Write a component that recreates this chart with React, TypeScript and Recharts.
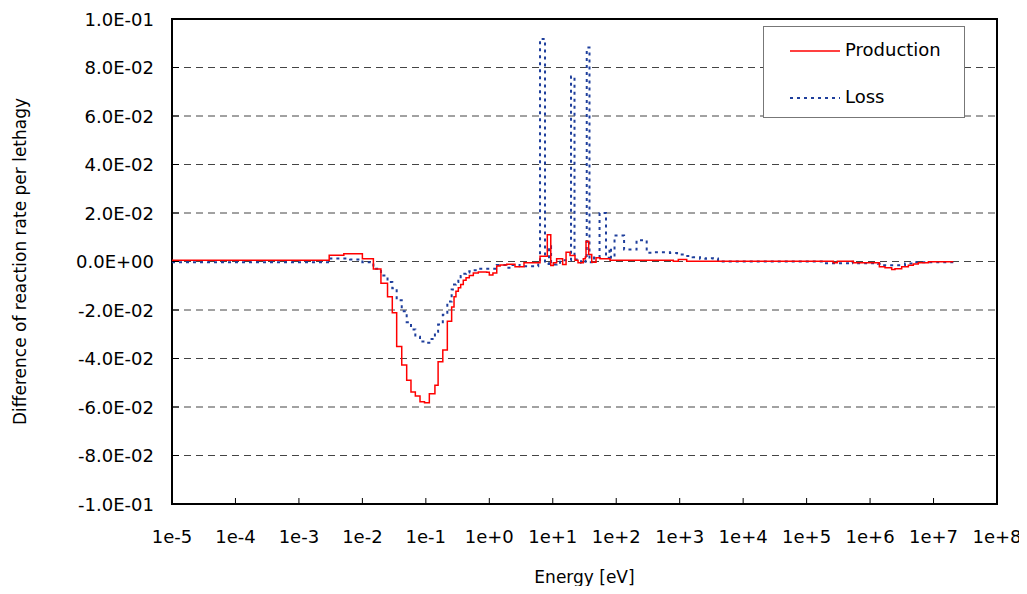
import { LineChart, Line, XAxis, YAxis, CartesianGrid, Legend, ReferenceArea } from 'recharts';

const FONT = '"DejaVu Sans", Verdana, sans-serif';

// group lower bounds [eV] and the difference per lethargy
const prodEnergy = [
  1e-5, 3.0e-3, 5.1e-3, 1.0e-2, 1.49e-2, 1.96e-2, 2.49e-2, 2.96e-2, 3.47e-2, 4.17e-2,
  4.99e-2, 5.83e-2, 6.83e-2, 8.09e-2, 9.53e-2, 0.1135, 0.139, 0.156, 0.185, 0.218,
  0.255, 0.278, 0.298, 0.325, 0.354, 0.389, 0.43, 0.484, 0.56, 0.671,
  0.91, 1.0, 1.14, 1.31, 1.48, 1.88, 2.54, 3.52, 6.3, 8.2,
  9.3, 10.2, 11.5, 14.3, 16.2, 18.7, 22.4, 25, 30.3, 32.6,
  33.4, 36.8, 41.1, 48, 55.5, 79.8, 793, 951, 1290, 2.64e5,
  3.05e5, 5.45e5, 1.4e6, 1.72e6, 2.19e6, 2.47e6, 3.15e6, 4.01e6, 4.8e6, 5.75e6,
  8.3e6, 2.05e7,
];
const prodValue = [
  0.0005, 0.0026, 0.0032, 0.0011, -0.0031, -0.009, -0.0145, -0.0211, -0.035, -0.0427,
  -0.049, -0.0538, -0.0555, -0.0578, -0.0582, -0.0545, -0.051, -0.0413, -0.0365, -0.0246,
  -0.0188, -0.0145, -0.0123, -0.0108, -0.0095, -0.0077, -0.0067, -0.0058, -0.0047, -0.0043,
  -0.0044, -0.0056, -0.0047, -0.0019, -0.0014, -0.0011, -0.0022, -0.0005, 0.0022, 0.011,
  -0.0016, -0.0005, 0.0011, -0.0012, 0.0038, 0.0025, 0.0005, -0.0005, 0.0011, 0.0019,
  0.0083, 0.0029, -0.0003, 0.0015, 0.0011, 0.0005, 0.0001, 0.0008, 0.0001, -0.0005,
  0.0001, -0.0005, -0.0022, -0.0026, -0.0033, -0.003, -0.0022, -0.0015, -0.001, -0.0005,
  -0.0001, -0.0001,
];

const lossEnergy = [
  1e-5, 3.0e-3, 6.4e-3, 1.0e-2, 1.49e-2, 1.96e-2, 2.49e-2, 2.96e-2, 3.47e-2, 4.17e-2,
  4.99e-2, 5.83e-2, 6.83e-2, 8.09e-2, 9.53e-2, 0.1135, 0.139, 0.156, 0.185, 0.218,
  0.255, 0.278, 0.298, 0.325, 0.354, 0.389, 0.43, 0.484, 0.56, 0.671,
  1.31, 1.88, 2.0, 2.2, 3.0, 5.9, 6.3, 7.55, 8.73, 9.4,
  11.5, 13, 19.4, 22, 27.9, 32.8, 34.3, 37.9, 44.7, 54.6,
  69, 78.3, 82.8, 94, 133, 209, 302, 380, 703, 908,
  1213, 1600, 2090, 2600, 3350, 4020, 1.81e5, 4.49e5, 5.4e5, 1.33e6,
  1.6e6, 3.55e6, 5.1e6, 2.05e7,
];
const lossValue = [
  -0.0003, 0.0012, 0.0008, -0.0003, -0.003, -0.0058, -0.0085, -0.011, -0.016, -0.0205,
  -0.025, -0.028, -0.031, -0.033, -0.0335, -0.032, -0.029, -0.026, -0.022, -0.0165,
  -0.0115, -0.0095, -0.0085, -0.0072, -0.006, -0.0051, -0.0045, -0.004, -0.0036, -0.003,
  -0.0014, -0.0016, -0.0026, -0.0014, -0.002, -0.0012, 0.0918, -0.001, 0.0063, -0.0012,
  -0.0005, 0.0005, 0.0763, 0.0008, -0.0005, 0.0018, 0.0882, -0.0003, 0.0016, 0.02,
  0.0015, 0.0056, 0.0015, 0.0107, 0.0049, 0.0088, 0.0036, 0.0038, 0.0035, 0.0029,
  0.0023, 0.0018, 0.0011, 0.0013, 0.0012, 0.0, -0.0007, -0.0001, -0.0007, -0.0009,
  -0.0015, -0.0008, -0.0003, -0.0003,
];

const xTicks = [1e-5, 1e-4, 1e-3, 1e-2, 1e-1, 1e0, 1e1, 1e2, 1e3, 1e4, 1e5, 1e6, 1e7, 1e8];
const yTicks = [-0.1, -0.08, -0.06, -0.04, -0.02, 0, 0.02, 0.04, 0.06, 0.08, 0.1];

const prodData = prodEnergy.map((e, i) => ({ e, v: prodValue[i] }));
const lossData = lossEnergy.map((e, i) => ({ e, v: lossValue[i] }));

const fmtX = (v: number) => {
  const n = Math.round(Math.log10(v));
  return `1e${n >= 0 ? '+' : ''}${n}`;
};

// excel style 0.0E+00
const fmtY = (v: number) => {
  if (Math.abs(v) < 1e-12) return '0.0E+00';
  const exp = Math.floor(Math.log10(Math.abs(v)) + 1e-9);
  const m = (v / Math.pow(10, exp)).toFixed(1);
  const sign = exp < 0 ? '-' : '+';
  return `${m}E${sign}${String(Math.abs(exp)).padStart(2, '0')}`;
};

const XTick = (props: any) => {
  const { x, y, payload } = props;
  return (
    <g>
      <line x1={x} y1={y} x2={x} y2={y - 6} stroke="#000" strokeWidth={1} />
      <text x={x} y={y + 39} textAnchor="middle" fontFamily={FONT} fontSize={18} fill="#000">
        {fmtX(payload.value)}
      </text>
    </g>
  );
};

const YTick = (props: any) => {
  const { x, y, payload } = props;
  return (
    <g>
      <line x1={x} y1={y} x2={x + 7} y2={y} stroke="#000" strokeWidth={1} />
      <text x={x - 18} y={y + 6.5} textAnchor="end" fontFamily={FONT} fontSize={18} fill="#000">
        {fmtY(payload.value)}
      </text>
    </g>
  );
};

const LegendBox = () => (
  <div
    style={{
      position: 'relative',
      width: 202,
      height: 92,
      boxSizing: 'border-box',
      border: '1px solid #777',
      background: '#fff',
      fontFamily: FONT,
      fontSize: 18,
      color: '#000',
    }}
  >
    <svg width={60} height={10} style={{ position: 'absolute', left: 26, top: 19 }}>
      <line x1={0} y1={5} x2={50} y2={5} stroke="#ff0000" strokeWidth={1.5} />
    </svg>
    <span style={{ position: 'absolute', left: 81, top: 12, lineHeight: '22px' }}>Production</span>
    <svg width={60} height={10} style={{ position: 'absolute', left: 26, top: 66 }}>
      <line x1={0} y1={5} x2={50} y2={5} stroke="#1f3f9c" strokeWidth={2} strokeDasharray="3 4" />
    </svg>
    <span style={{ position: 'absolute', left: 81, top: 59, lineHeight: '22px' }}>Loss</span>
  </div>
);

export default function App() {
  return (
    <>
      <style>{'.recharts-surface { overflow: visible; } .recharts-wrapper { overflow: visible; }'}</style>
      <LineChart
        width={1011}
        height={578}
        margin={{ top: 11, right: 22, left: 0, bottom: 0 }}
        style={{ fontFamily: FONT }}
      >
        <CartesianGrid vertical={false} stroke="#444" strokeDasharray="7 5" />
        <XAxis
          dataKey="e"
          type="number"
          scale="log"
          domain={[1e-5, 1e8]}
          ticks={xTicks}
          allowDataOverflow
          height={82}
          tickSize={0}
          tickMargin={0}
          tickLine={false}
          axisLine={false}
          tick={<XTick />}
          interval={0}
          label={{ value: 'Energy [eV]', position: 'insideBottom', offset: 3, fontSize: 17, fontFamily: FONT, fill: '#000' }}
        />
        <YAxis
          type="number"
          domain={[-0.1, 0.1]}
          ticks={yTicks}
          allowDataOverflow
          width={164}
          tickSize={0}
          tickMargin={0}
          tickLine={false}
          axisLine={false}
          tick={<YTick />}
          interval={0}
          label={{
            value: 'Difference of reaction rate per lethagy',
            angle: -90,
            position: 'insideLeft',
            offset: 12,
            fontSize: 17,
            fontFamily: FONT,
            fill: '#000',
            style: { textAnchor: 'middle' },
          }}
        />
        <ReferenceArea x1={1e-5} x2={1e8} y1={-0.1} y2={0.1} fill="none" stroke="#000" strokeWidth={2} ifOverflow="visible" />
        <Line
          data={lossData}
          dataKey="v"
          name="Loss"
          type="stepAfter"
          stroke="#1f3f9c"
          strokeWidth={2}
          strokeDasharray="3 4"
          dot={false}
          activeDot={false}
          isAnimationActive={false}
        />
        <Line
          data={prodData}
          dataKey="v"
          name="Production"
          type="stepAfter"
          stroke="#ff0000"
          strokeWidth={1.5}
          dot={false}
          activeDot={false}
          isAnimationActive={false}
        />
        <Legend
          layout="vertical"
          align="center"
          verticalAlign="middle"
          content={<LegendBox />}
          wrapperStyle={{ left: 755, top: 18, width: 202, height: 92 }}
        />
      </LineChart>
    </>
  );
}
